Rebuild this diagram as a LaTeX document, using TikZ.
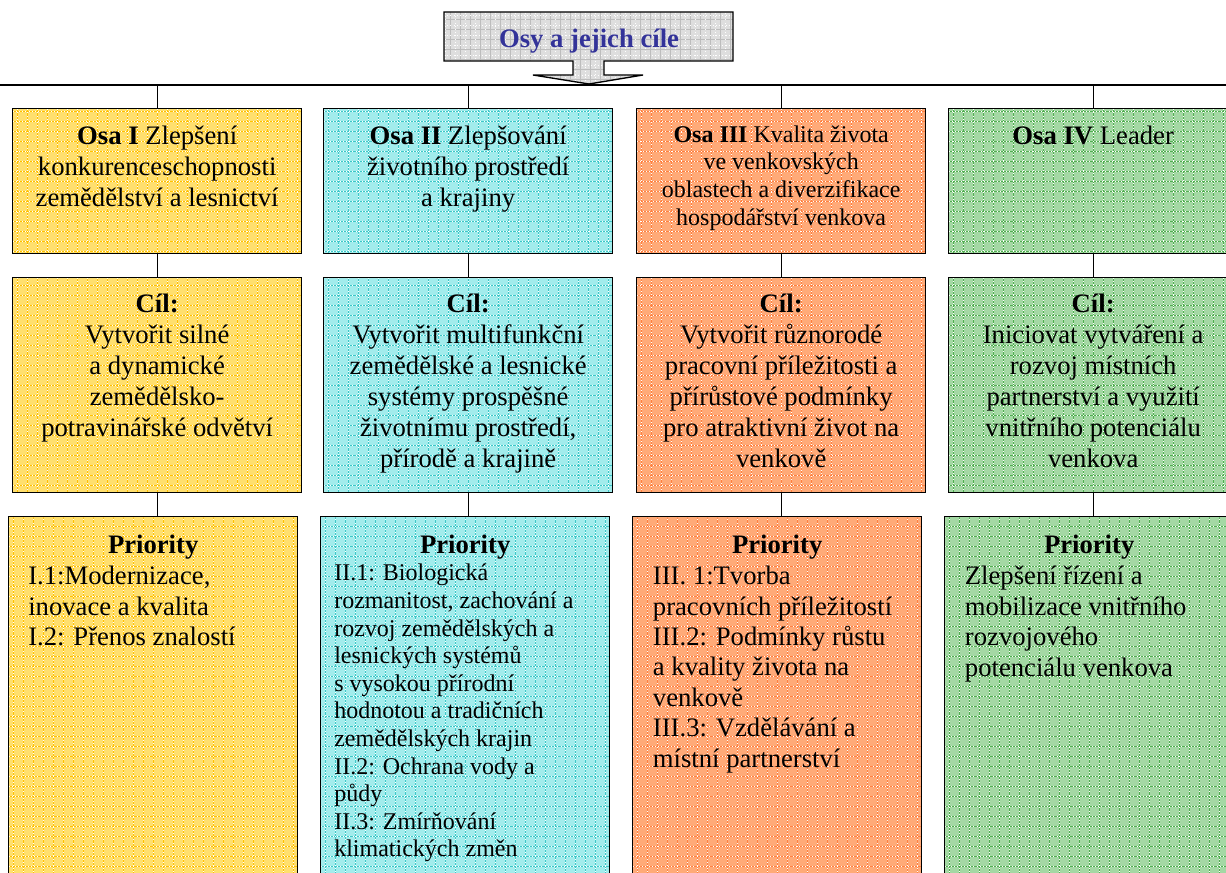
\documentclass[tikz,border=0pt]{standalone}
\usepackage{fontspec}
\setmainfont{Liberation Serif}
\usetikzlibrary{positioning}

\definecolor{yfill}{HTML}{FFDF6E}
\definecolor{yline}{HTML}{FFC000}
\definecolor{cfill}{HTML}{A2ECEC}
\definecolor{cline}{HTML}{3CC8C8}
\definecolor{ofill}{HTML}{FFAA78}
\definecolor{oline}{HTML}{FF7F3F}
\definecolor{gfill}{HTML}{A4D8A4}
\definecolor{gline}{HTML}{4FAE4F}
\definecolor{sfill}{HTML}{DEDEDE}
\definecolor{sline}{HTML}{BDBDBD}
\definecolor{osyblue}{HTML}{333399}

\tikzset{
	pattfill/.style 2 args = {fill = #1,
		path picture = {
			\draw[#2, line width = 0.75pt, step = 7.5pt] (path picture bounding box.south west) grid (path picture bounding box.north east);
			\draw[white, line width = 0.4pt, step = 7.5pt, dotted, xshift = 3.75pt, yshift = 3.75pt] (path picture bounding box.south west) grid (path picture bounding box.north east);
		}},
	osabox/.style 2 args = {pattfill = {#1}{#2}, draw, line width = 1pt, inner sep = 0pt, anchor = north west, minimum width = 216.75pt},
	bigtxt/.style = {font = \fontsize{20}{23.25}\selectfont, align = center, inner sep = 0pt, anchor = north},
	smalltxt/.style = {font = \fontsize{18}{20.7}\selectfont, align = center, inner sep = 0pt, anchor = north},
	listtxt/.style = {font = \fontsize{20}{22.8}\selectfont, align = left, inner sep = 0pt, anchor = north west},
	smalllist/.style = {font = \fontsize{18}{20.7}\selectfont, align = left, inner sep = 0pt, anchor = north west},
	link/.style = {line width = 1pt}
}

\begin{document}
\begin{tikzpicture}[x = 0.75pt, y = -0.75pt]
	%	page
	\useasboundingbox (0, 0) rectangle (1226, 873);
	\clip (0, 0) rectangle (1226, 873);
	
	\def\hone{108.75pt}
	\def\htwo{161.25pt}
	\def\hthree{300pt}
	
	%	title arrow
	\draw[pattfill = {sfill}{sline}, line width = 1pt] (444, 12) -- (733, 12) -- (733, 61) -- (604, 61) -- (604, 75) -- (643, 75) -- (589, 84) -- (533, 75) -- (573, 75) -- (573, 61) -- (444, 61) -- cycle;
	\node[font = \fontsize{20}{24}\selectfont\bfseries, text = osyblue] (title) at (589, 41) {Osy a jejich cíle};
	
	%	bus
	\coordinate (busL) at (0, 85);
	\coordinate (busR) at (1226, 85);
	\draw[link] (busL) -- (busR);
	
	%	row 1: osy
	\node[osabox = {yfill}{yline}, minimum height = \hone] (osaI) at (12, 108) {};
	\node[osabox = {cfill}{cline}, minimum height = \hone] (osaII) at (323, 108) {};
	\node[osabox = {ofill}{oline}, minimum height = \hone] (osaIII) at (636, 108) {};
	\node[osabox = {gfill}{gline}, minimum height = \hone] (osaIV) at (948, 108) {};
	
	\node[bigtxt] (osaItxt) at ([yshift = -13pt]osaI.north) {\textbf{Osa I} Zlepšení\\konkurenceschopnosti\\zemědělství a lesnictví};
	\node[bigtxt] (osaIItxt) at ([yshift = -13pt]osaII.north) {\textbf{Osa II} Zlepšování\\životního prostředí\\a krajiny};
	\node[smalltxt] (osaIIItxt) at ([yshift = -13pt]osaIII.north) {\textbf{Osa III} Kvalita života\\ve venkovských\\oblastech a diverzifikace\\hospodářství venkova};
	\node[bigtxt] (osaIVtxt) at ([yshift = -13pt]osaIV.north) {\textbf{Osa IV} Leader};
	
	%	row 2: cile
	\node[osabox = {yfill}{yline}, minimum height = \htwo] (cilI) at (12, 277) {};
	\node[osabox = {cfill}{cline}, minimum height = \htwo] (cilII) at (323, 277) {};
	\node[osabox = {ofill}{oline}, minimum height = \htwo] (cilIII) at (636, 277) {};
	\node[osabox = {gfill}{gline}, minimum height = \htwo] (cilIV) at (948, 277) {};
	
	\node[bigtxt] (cilItxt) at ([yshift = -12.5pt]cilI.north) {\textbf{Cíl:}\\Vytvořit silné\\a dynamické\\zemědělsko-\\potravinářské odvětví};
	\node[bigtxt] (cilIItxt) at ([yshift = -12.5pt]cilII.north) {\textbf{Cíl:}\\Vytvořit multifunkční\\zemědělské a lesnické\\systémy prospěšné\\životnímu prostředí,\\přírodě a krajině};
	\node[bigtxt] (cilIIItxt) at ([yshift = -12.5pt]cilIII.north) {\textbf{Cíl:}\\Vytvořit různorodé\\pracovní příležitosti a\\přírůstové podmínky\\pro atraktivní život na\\venkově};
	\node[bigtxt] (cilIVtxt) at ([yshift = -12.5pt]cilIV.north) {\textbf{Cíl:}\\Iniciovat vytváření a\\rozvoj místních\\partnerství a využití\\vnitřního potenciálu\\venkova};
	
	%	row 3: priority
	\node[osabox = {yfill}{yline}, minimum height = \hthree] (prioI) at (8, 516) {};
	\node[osabox = {cfill}{cline}, minimum height = \hthree] (prioII) at (320, 516) {};
	\node[osabox = {ofill}{oline}, minimum height = \hthree] (prioIII) at (632, 516) {};
	\node[osabox = {gfill}{gline}, minimum height = \hthree] (prioIV) at (944, 516) {};
	
	\node[bigtxt] (prioIhead) at ([yshift = -14pt]prioI.north) {\textbf{Priority}};
	\node[bigtxt] (prioIIhead) at ([yshift = -14pt]prioII.north) {\textbf{Priority}};
	\node[bigtxt] (prioIIIhead) at ([yshift = -14pt]prioIII.north) {\textbf{Priority}};
	\node[bigtxt] (prioIVhead) at ([yshift = -14pt]prioIV.north) {\textbf{Priority}};
	
	\node[listtxt] (prioItxt) at ([xshift = 15pt, yshift = -37.5pt]prioI.north west) {I.1:Modernizace,\\inovace a kvalita\\I.2: Přenos znalostí};
	\node[smalllist] (prioIItxt) at ([xshift = 10.5pt, yshift = -36pt]prioII.north west) {II.1: Biologická\\rozmanitost, zachování a\\rozvoj zemědělských a\\lesnických systémů\\s vysokou přírodní\\hodnotou a tradičních\\zemědělských krajin\\II.2: Ochrana vody a\\půdy\\II.3: Zmírňování\\klimatických změn};
	\node[listtxt] (prioIIItxt) at ([xshift = 15.5pt, yshift = -37.5pt]prioIII.north west) {III. 1:Tvorba\\pracovních příležitostí\\III.2: Podmínky růstu\\a kvality života na\\venkově\\III.3: Vzdělávání a\\místní partnerství};
	\node[listtxt] (prioIVtxt) at ([xshift = 15.5pt, yshift = -37.5pt]prioIV.north west) {Zlepšení řízení a\\mobilizace vnitřního\\rozvojového\\potenciálu venkova};
	
	%	links
	\draw[link] (osaI.north) -- (osaI.north |- busL);
	\draw[link] (osaII.north) -- (osaII.north |- busL);
	\draw[link] (osaIII.north) -- (osaIII.north |- busL);
	\draw[link] (osaIV.north) -- (osaIV.north |- busL);
	
	\draw[link] (osaI.south) -- (cilI.north);
	\draw[link] (osaII.south) -- (cilII.north);
	\draw[link] (osaIII.south) -- (cilIII.north);
	\draw[link] (osaIV.south) -- (cilIV.north);
	
	\draw[link] (cilI.south) -- (cilI.south |- prioI.north);
	\draw[link] (cilII.south) -- (cilII.south |- prioII.north);
	\draw[link] (cilIII.south) -- (cilIII.south |- prioIII.north);
	\draw[link] (cilIV.south) -- (cilIV.south |- prioIV.north);
\end{tikzpicture}
\end{document}
